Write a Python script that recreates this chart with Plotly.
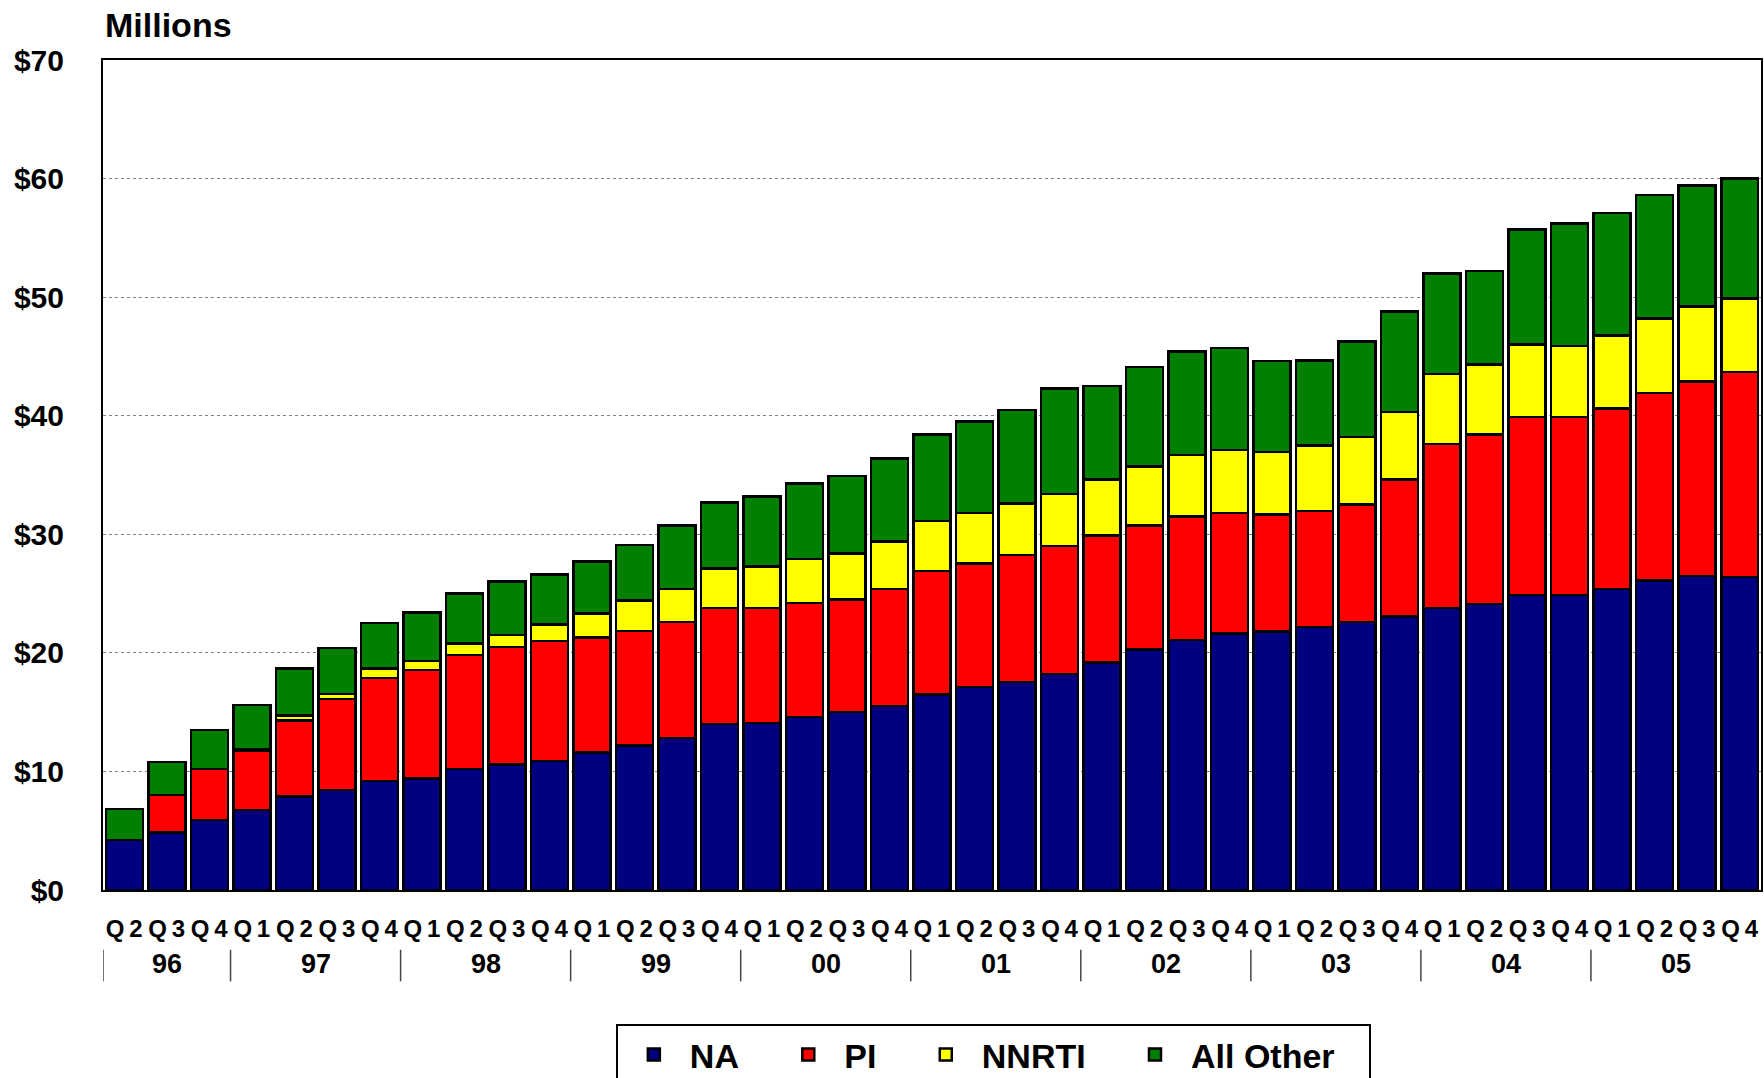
import plotly.graph_objects as go

# ---- data (millions of dollars) ----
quarters = ["Q2", "Q3", "Q4",
            "Q1", "Q2", "Q3", "Q4",
            "Q1", "Q2", "Q3", "Q4",
            "Q1", "Q2", "Q3", "Q4",
            "Q1", "Q2", "Q3", "Q4",
            "Q1", "Q2", "Q3", "Q4",
            "Q1", "Q2", "Q3", "Q4",
            "Q1", "Q2", "Q3", "Q4",
            "Q1", "Q2", "Q3", "Q4",
            "Q1", "Q2", "Q3", "Q4"]
years = ["96", "96", "96",
         "97", "97", "97", "97",
         "98", "98", "98", "98",
         "99", "99", "99", "99",
         "00", "00", "00", "00",
         "01", "01", "01", "01",
         "02", "02", "02", "02",
         "03", "03", "03", "03",
         "04", "04", "04", "04",
         "05", "05", "05", "05"]

na = [4.2, 4.85, 5.9, 6.75, 7.9, 8.45, 9.2, 9.4, 10.2, 10.6, 10.9, 11.6, 12.2,
      12.8, 14.0, 14.1, 14.6, 15.0, 15.5, 16.5, 17.1, 17.55, 18.2, 19.2, 20.3,
      21.1, 21.65, 21.8, 22.2, 22.6, 23.05, 23.8, 24.1, 24.9, 24.9, 25.4, 26.1,
      26.5, 26.4]
pi = [0.0, 3.15, 4.3, 5.0, 6.4, 7.65, 8.7, 9.15, 9.6, 9.9, 10.1, 9.7, 9.65,
      9.8, 9.8, 9.7, 9.6, 9.5, 9.9, 10.4, 10.45, 10.7, 10.8, 10.7, 10.45,
      10.4, 10.15, 9.85, 9.75, 9.9, 11.55, 13.8, 14.3, 15.0, 15.0, 15.2, 15.8,
      16.4, 17.3]
nnrti = [0.0, 0.0, 0.0, 0.15, 0.4, 0.45, 0.8, 0.75, 1.0, 1.0, 1.4, 2.0, 2.55,
         2.8, 3.3, 3.5, 3.7, 3.9, 4.0, 4.2, 4.25, 4.35, 4.4, 4.7, 4.95,
         5.2, 5.3, 5.3, 5.55, 5.7, 5.7, 5.9, 5.9, 6.1, 6.0, 6.15, 6.3,
         6.3, 6.2]
other = [2.65, 2.8, 3.3, 3.7, 4.0, 3.85, 3.8, 4.1, 4.2, 4.5, 4.2, 4.4, 4.7,
         5.35, 5.6, 5.9, 6.4, 6.5, 7.0, 7.3, 7.7, 7.9, 8.9, 7.9, 8.4,
         8.7, 8.6, 7.65, 7.15, 8.05, 8.5, 8.5, 7.9, 9.7, 10.3, 10.35, 10.4,
         10.2, 10.1]

series_names = ["NA", "PI", "NNRTI", "All Other"]
series_values = [na, pi, nnrti, other]
series_colors = ["#000080", "#FF0000", "#FFFF00", "#008000"]

FONT = "Liberation Sans, Arial, sans-serif"
PAD = "\u00a0\u00a0\u00a0"  # trailing spacing between legend entries

x = list(range(len(quarters)))
tick_text = [q[0] + "\u2009" + q[1:] for q in quarters]

fig = go.Figure()
for name, vals, color in zip(series_names, series_values, series_colors):
    fig.add_trace(go.Bar(
        x=x, y=vals, name=name + PAD,
        marker=dict(color=color, line=dict(color="black", width=2.5)),
    ))

# year group labels and dividers derived from the years list
shapes = []
annotations = []
groups = []
for i, yv in enumerate(years):
    if not groups or groups[-1][0] != yv:
        groups.append([yv, i, i])
    else:
        groups[-1][2] = i
for yv, s, e in groups:
    annotations.append(dict(
        x=(s + e) / 2, y=-0.089, xref="x", yref="paper",
        text=yv, showarrow=False, yanchor="middle",
        font=dict(size=27, family=FONT, color="black", weight="bold")))
    shapes.append(dict(
        type="line", xref="x", yref="paper",
        x0=s - 0.5, x1=s - 0.5, y0=-0.072, y1=-0.11,
        line=dict(color="#444444", width=1.5)))

annotations.append(dict(
    x=0, y=1.042, xref="paper", yref="paper", xanchor="left", yanchor="middle",
    text="Millions", showarrow=False,
    font=dict(size=34, family=FONT, color="black", weight="bold")))

fig.update_layout(
    width=1764, height=1078,
    margin=dict(l=103, r=3, t=60, b=188, autoexpand=False),
    paper_bgcolor="white", plot_bgcolor="white",
    barmode="stack", bargap=0.13,
    font=dict(family=FONT, color="black", weight="bold"),
    shapes=shapes, annotations=annotations,
    legend=dict(
        orientation="h", x=0.537, xanchor="center", y=-0.1614, yanchor="top",
        font=dict(size=34, family=FONT, color="black", weight="bold"),
        bordercolor="black", borderwidth=2, bgcolor="white",
        traceorder="normal", itemwidth=62,
    ),
    showlegend=True,
)

fig.update_xaxes(
    range=[-0.5, len(quarters) - 0.5],
    tickmode="array", tickvals=x, ticktext=tick_text,
    tickfont=dict(size=24, family=FONT, color="black", weight="bold"),
    ticks="", ticklabelstandoff=16,
    showline=True, linecolor="black", linewidth=2, mirror=True,
    showgrid=False, zeroline=False,
)
fig.update_yaxes(
    range=[0, 70], dtick=10, tickprefix="$",
    tickfont=dict(size=30, family=FONT, color="black", weight="bold"),
    ticks="", ticklabelstandoff=31,
    showline=True, linecolor="black", linewidth=2, mirror=True,
    showgrid=True, gridcolor="#808080", gridwidth=1, griddash="dot",
    zeroline=False,
)

fig.write_html("out.html", config={"displayModeBar": False},
               post_script="document.body.style.margin='0';")
